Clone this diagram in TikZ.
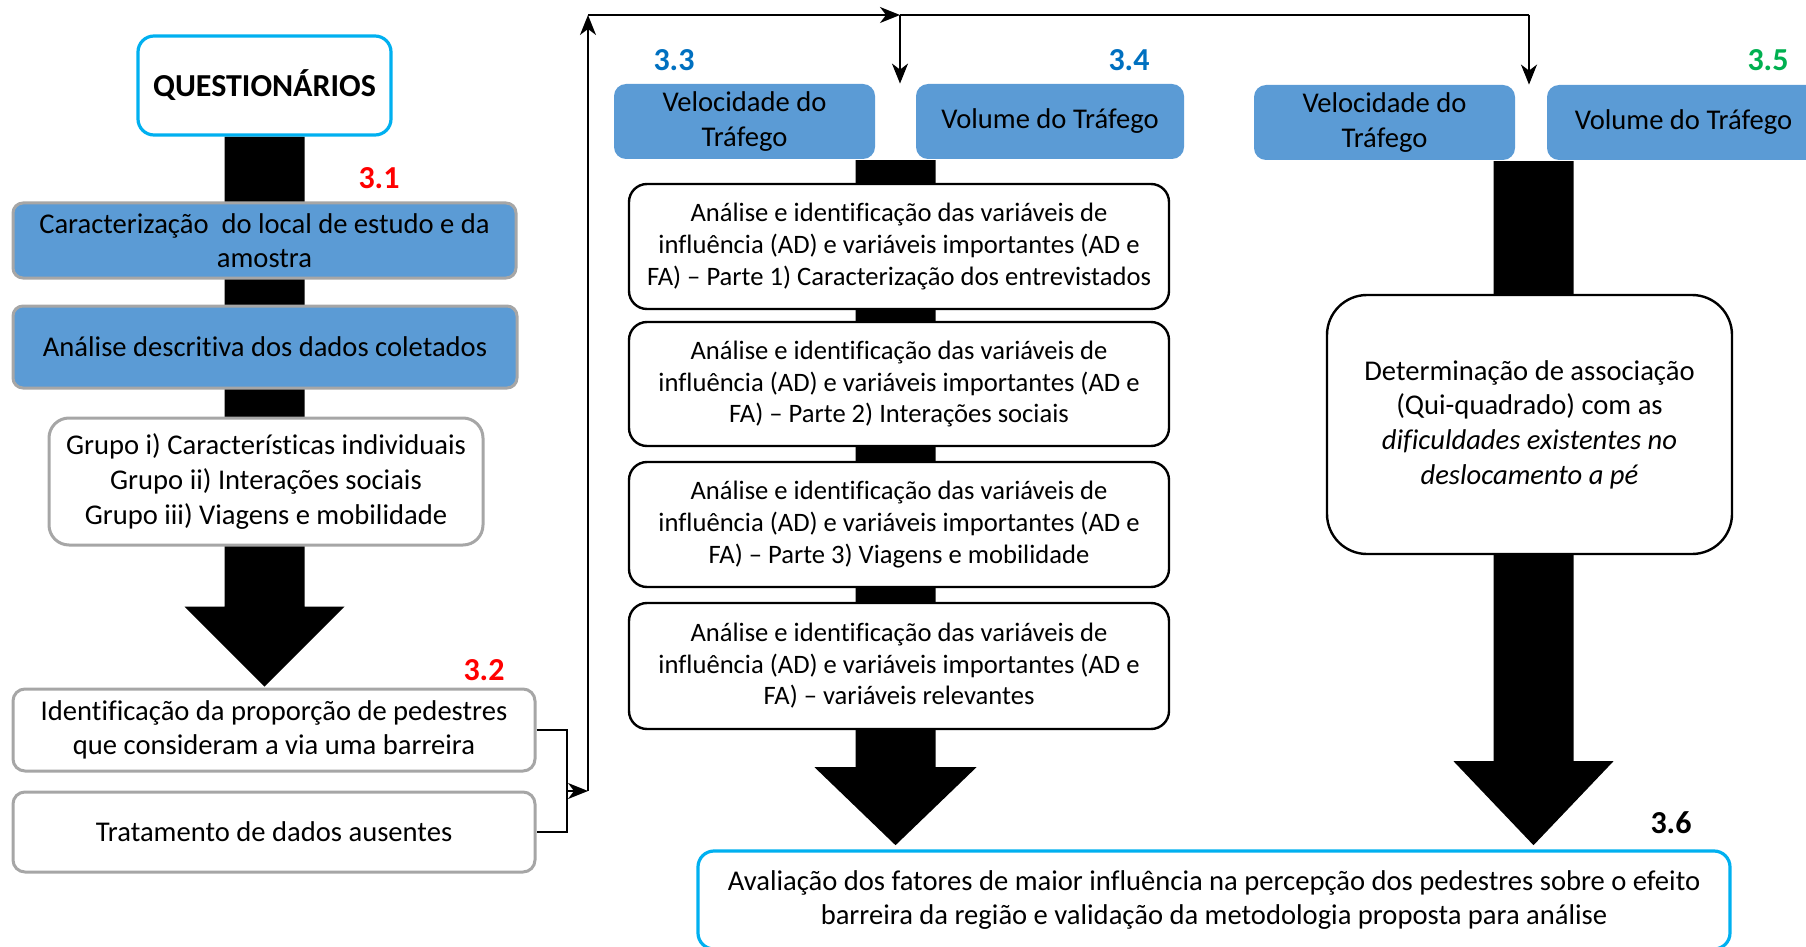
\documentclass[tikz,border=0pt]{standalone}
\usepackage{fontspec}
\setmainfont{Carlito}[Ligatures=NoCommon]
\usetikzlibrary{arrows.meta,backgrounds}

\definecolor{caixaazul}{HTML}{5B9BD5}
\definecolor{bordacinza}{HTML}{A6A6A6}
\definecolor{ciano}{HTML}{00B0F0}
\definecolor{azulnum}{HTML}{0070C0}
\definecolor{verdenum}{HTML}{00B050}

\tikzset{
	texto/.style={align=center, inner sep=1pt, font=\fontsize{14.3}{17.3}\selectfont},
	textomenor/.style={align=center, inner sep=1pt, font=\fontsize{13.3}{15.8}\selectfont},
	caixaciano/.style={texto, draw=ciano, fill=white, line width=1.6pt, rounded corners=8pt},
	caixaazulcinza/.style={texto, draw=bordacinza, fill=caixaazul, line width=1.5pt, rounded corners=5pt},
	caixacinza/.style={texto, draw=bordacinza, fill=white, line width=1.5pt, rounded corners=6pt},
	caixatrafego/.style={texto, fill=caixaazul, rounded corners=6pt},
	caixapreta/.style={textomenor, draw=black, fill=white, line width=1.2pt, rounded corners=9pt},
	numero/.style={font=\bfseries\fontsize{16}{19}\selectfont},
	linha/.style={line width=1pt},
	seta/.style={-{Stealth[length=10pt,width=8pt,inset=3pt]}}
}

\begin{document}
\begin{tikzpicture}[x=0.5pt, y=-0.5pt]
	\useasboundingbox (0,0) rectangle (1806,947);

	% coluna da esquerda
	\node[caixaciano, minimum width=126.5pt, minimum height=49.5pt, font=\bfseries\fontsize{16}{19}\selectfont] (quest) at (264.5,85.5) {QUESTIONÁRIOS};
	\node[caixaazulcinza, minimum width=251.5pt, minimum height=37.5pt] (carac) at (264.5,240.5) {Caracterização~ do local de estudo e da\\amostra};
	\node[caixaazulcinza, minimum width=252pt, minimum height=41pt] (descr) at (265,347) {Análise descritiva dos dados coletados};
	\node[caixacinza, rounded corners=10pt, minimum width=217pt, minimum height=63.5pt] (grupo) at (266,481.5) {Grupo i) Características individuais\\Grupo ii) Interações sociais\\Grupo iii) Viagens e mobilidade};
	\node[caixacinza, minimum width=261pt, minimum height=41pt] (ident) at (274,730) {Identificação da proporção de pedestres\\que consideram a via uma barreira};
	\node[caixacinza, minimum width=261pt, minimum height=40pt] (trat) at (274,832) {Tratamento de dados ausentes};

	% coluna do meio
	\node[caixatrafego, minimum width=130.5pt, minimum height=37.5pt] (vel1) at (744.5,121.5) {Velocidade do\\Tráfego};
	\node[caixatrafego, minimum width=134pt, minimum height=37.5pt] (vol1) at (1050,121.5) {Volume do Tráfego};
	\node[caixapreta, minimum width=270pt, minimum height=62.5pt] (anal1) at (899,246.5) {Análise e identificação das variáveis de\\influência (AD) e variáveis importantes (AD e\\FA) – Parte 1) Caracterização dos entrevistados};
	\node[caixapreta, minimum width=270pt, minimum height=62pt] (anal2) at (899,384) {Análise e identificação das variáveis de\\influência (AD) e variáveis importantes (AD e\\FA) – Parte 2) Interações sociais};
	\node[caixapreta, minimum width=270pt, minimum height=62.5pt] (anal3) at (899,524.5) {Análise e identificação das variáveis de\\influência (AD) e variáveis importantes (AD e\\FA) – Parte 3) Viagens e mobilidade};
	\node[caixapreta, minimum width=270pt, minimum height=63pt] (anal4) at (899,666) {Análise e identificação das variáveis de\\influência (AD) e variáveis importantes (AD e\\FA) – variáveis relevantes};

	% coluna da direita
	\node[caixatrafego, minimum width=130.5pt, minimum height=37.5pt] (vel2) at (1384.5,122.5) {Velocidade do\\Tráfego};
	\node[caixatrafego, minimum width=136.5pt, minimum height=37.5pt] (vol2) at (1683.5,122.5) {Volume do Tráfego};
	\node[caixapreta, texto, rounded corners=20pt, minimum width=202.5pt, minimum height=129.5pt] (assoc) at (1529.5,424.5) {Determinação de associação\\(Qui-quadrado) com as\\\textit{dificuldades existentes no}\\\textit{deslocamento a pé}};

	% caixa final
	\node[caixaciano, minimum width=516pt, minimum height=49pt] (aval) at (1214,900) {Avaliação dos fatores de maior influência na percepção dos pedestres sobre o efeito\\barreira da região e validação da metodologia proposta para análise};

	% numeros das etapas
	\node[numero, text=red] (n31) at (379,178) {3.1};
	\node[numero, text=red] (n32) at (484,670) {3.2};
	\node[numero, text=azulnum] (n33) at (674,60) {3.3};
	\node[numero, text=azulnum] (n34) at (1129,60) {3.4};
	\node[numero, text=verdenum] (n35) at (1768,60) {3.5};
	\node[numero] (n36) at (1671,823) {3.6};

	% setas largas
	\begin{scope}[on background layer]
		\fill ([xshift=-20pt]quest.south) -- ++(0,470) -- ++(-40,0) -- ++(80,80) -- ++(80,-80) -- ++(-40,0) -- ++(0,-470) -- cycle;
		\fill ([xshift=-21.75pt]anal4.south) -- ++(0,37) -- ++(-41,0) -- ++(81,78) -- ++(81,-78) -- ++(-41,0) -- ++(0,-607) -- ++(-80,0) -- cycle;
		\fill ([xshift=-18pt]assoc.south) -- ++(0,206) -- ++(-40,0) -- ++(80,84) -- ++(80,-84) -- ++(-40,0) -- ++(0,-600) -- ++(-80,0) -- cycle;
	\end{scope}

	% ligacoes
	\coordinate (junta) at (567,791);
	\coordinate (sobe) at (588,791);
	\coordinate (canto) at (588,15);
	\coordinate (divide) at (900,15);
	\coordinate (fim) at (1529,15);
	\draw[linha] (ident.east) -| (junta) |- (trat.east);
	\draw[linha, seta] (junta) -- (sobe);
	\draw[linha, seta] (sobe) -- (canto);
	\draw[linha, seta] (canto) -- (divide);
	\draw[linha] (divide) -- (fim);
	\draw[linha, seta] (divide) -- (divide |- vel1.north);
	\draw[linha, seta] (fim) -- (fim |- vel2.north);
\end{tikzpicture}
\end{document}
